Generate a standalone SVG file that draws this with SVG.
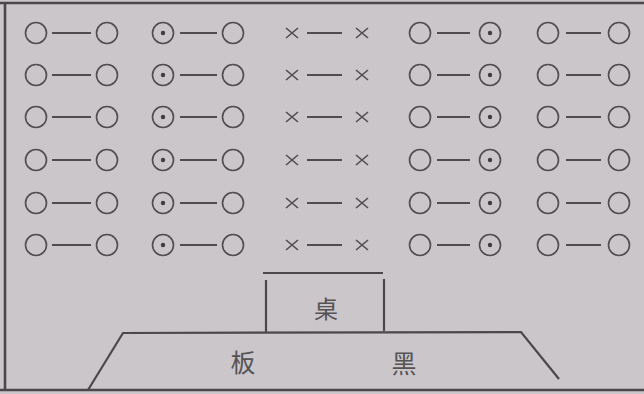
<svg xmlns="http://www.w3.org/2000/svg" xmlns:xlink="http://www.w3.org/1999/xlink" width="644" height="394" viewBox="0 0 644 394">
<style>
.bg{fill:#cac6ca}
.seat{fill:none;stroke:#4f4d50;stroke-width:1.6}
.dot{fill:#3f3d40}
.conn line{stroke:#4f4d50;stroke-width:2}
.frame{fill:none;stroke:#4a484b;stroke-width:2.6}
.thin{fill:none;stroke:#4a484b;stroke-width:2.2}
.lbl{font-family:"Noto Sans CJK SC","Noto Sans CJK JP",sans-serif;fill:#555356;text-anchor:middle;dominant-baseline:central}
</style>
<defs>
<g id="o"><circle class="seat" cx="0" cy="0" r="10.5"/></g>
<g id="od"><circle class="seat" cx="0" cy="0" r="10.5"/><circle class="dot" cx="0" cy="0" r="2.2"/></g>
<g id="x"><path class="seat" d="M-6,-5 L6,5 M-6,5 L6,-5"/></g>
</defs>
<rect class="bg" x="0" y="0" width="644" height="394"/>
<g id="frame">
<line class="frame" x1="0" y1="3" x2="644" y2="3"/>
<line class="frame" x1="5" y1="3" x2="5" y2="390"/>
<line class="frame" x1="0" y1="390" x2="644" y2="390"/>
</g>
<g id="connectors" class="conn">
<line x1="52" y1="33" x2="91" y2="33"/><line x1="180" y1="33" x2="217" y2="33"/><line x1="307" y1="33" x2="342" y2="33"/><line x1="437" y1="33" x2="470" y2="33"/><line x1="566" y1="33" x2="601" y2="33"/>
<line x1="52" y1="75" x2="91" y2="75"/><line x1="180" y1="75" x2="217" y2="75"/><line x1="307" y1="75" x2="342" y2="75"/><line x1="437" y1="75" x2="470" y2="75"/><line x1="566" y1="75" x2="601" y2="75"/>
<line x1="52" y1="117" x2="91" y2="117"/><line x1="180" y1="117" x2="217" y2="117"/><line x1="307" y1="117" x2="342" y2="117"/><line x1="437" y1="117" x2="470" y2="117"/><line x1="566" y1="117" x2="601" y2="117"/>
<line x1="52" y1="160" x2="91" y2="160"/><line x1="180" y1="160" x2="217" y2="160"/><line x1="307" y1="160" x2="342" y2="160"/><line x1="437" y1="160" x2="470" y2="160"/><line x1="566" y1="160" x2="601" y2="160"/>
<line x1="52" y1="203" x2="91" y2="203"/><line x1="180" y1="203" x2="217" y2="203"/><line x1="307" y1="203" x2="342" y2="203"/><line x1="437" y1="203" x2="470" y2="203"/><line x1="566" y1="203" x2="601" y2="203"/>
<line x1="52" y1="245" x2="91" y2="245"/><line x1="180" y1="245" x2="217" y2="245"/><line x1="307" y1="245" x2="342" y2="245"/><line x1="437" y1="245" x2="470" y2="245"/><line x1="566" y1="245" x2="601" y2="245"/>
</g>
<g id="row1">
<use id="s1a" href="#o" x="36" y="33"/><use id="s1b" href="#o" x="107" y="33"/><use id="s1c" href="#od" x="163" y="33"/><use id="s1d" href="#o" x="233" y="33"/><use id="s1e" href="#x" x="292" y="33"/><use id="s1f" href="#x" x="362" y="33"/><use id="s1g" href="#o" x="420" y="33"/><use id="s1h" href="#od" x="490" y="33"/><use id="s1i" href="#o" x="548" y="33"/><use id="s1j" href="#o" x="619" y="33"/>
</g>
<g id="row2">
<use id="s2a" href="#o" x="36" y="75"/><use id="s2b" href="#o" x="107" y="75"/><use id="s2c" href="#od" x="163" y="75"/><use id="s2d" href="#o" x="233" y="75"/><use id="s2e" href="#x" x="292" y="75"/><use id="s2f" href="#x" x="362" y="75"/><use id="s2g" href="#o" x="420" y="75"/><use id="s2h" href="#od" x="490" y="75"/><use id="s2i" href="#o" x="548" y="75"/><use id="s2j" href="#o" x="619" y="75"/>
</g>
<g id="row3">
<use id="s3a" href="#o" x="36" y="117"/><use id="s3b" href="#o" x="107" y="117"/><use id="s3c" href="#od" x="163" y="117"/><use id="s3d" href="#o" x="233" y="117"/><use id="s3e" href="#x" x="292" y="117"/><use id="s3f" href="#x" x="362" y="117"/><use id="s3g" href="#o" x="420" y="117"/><use id="s3h" href="#od" x="490" y="117"/><use id="s3i" href="#o" x="548" y="117"/><use id="s3j" href="#o" x="619" y="117"/>
</g>
<g id="row4">
<use id="s4a" href="#o" x="36" y="160"/><use id="s4b" href="#o" x="107" y="160"/><use id="s4c" href="#od" x="163" y="160"/><use id="s4d" href="#o" x="233" y="160"/><use id="s4e" href="#x" x="292" y="160"/><use id="s4f" href="#x" x="362" y="160"/><use id="s4g" href="#o" x="420" y="160"/><use id="s4h" href="#od" x="490" y="160"/><use id="s4i" href="#o" x="548" y="160"/><use id="s4j" href="#o" x="619" y="160"/>
</g>
<g id="row5">
<use id="s5a" href="#o" x="36" y="203"/><use id="s5b" href="#o" x="107" y="203"/><use id="s5c" href="#od" x="163" y="203"/><use id="s5d" href="#o" x="233" y="203"/><use id="s5e" href="#x" x="292" y="203"/><use id="s5f" href="#x" x="362" y="203"/><use id="s5g" href="#o" x="420" y="203"/><use id="s5h" href="#od" x="490" y="203"/><use id="s5i" href="#o" x="548" y="203"/><use id="s5j" href="#o" x="619" y="203"/>
</g>
<g id="row6">
<use id="s6a" href="#o" x="36" y="245"/><use id="s6b" href="#o" x="107" y="245"/><use id="s6c" href="#od" x="163" y="245"/><use id="s6d" href="#o" x="233" y="245"/><use id="s6e" href="#x" x="292" y="245"/><use id="s6f" href="#x" x="362" y="245"/><use id="s6g" href="#o" x="420" y="245"/><use id="s6h" href="#od" x="490" y="245"/><use id="s6i" href="#o" x="548" y="245"/><use id="s6j" href="#o" x="619" y="245"/>
</g>
<g id="desk">
<line class="thin" x1="263" y1="273" x2="383" y2="273"/>
<line class="thin" x1="266" y1="280" x2="266" y2="332"/>
<line class="thin" x1="384" y1="279" x2="384" y2="331"/>
<text class="lbl" x="326" y="307" font-size="24">桌</text>
</g>
<g id="blackboard">
<polyline class="thin" points="88,390 123,333 521,332 559,379"/>
<text class="lbl" x="243" y="361" font-size="25">板</text>
<text class="lbl" x="404" y="362" font-size="25">黑</text>
</g>
</svg>
